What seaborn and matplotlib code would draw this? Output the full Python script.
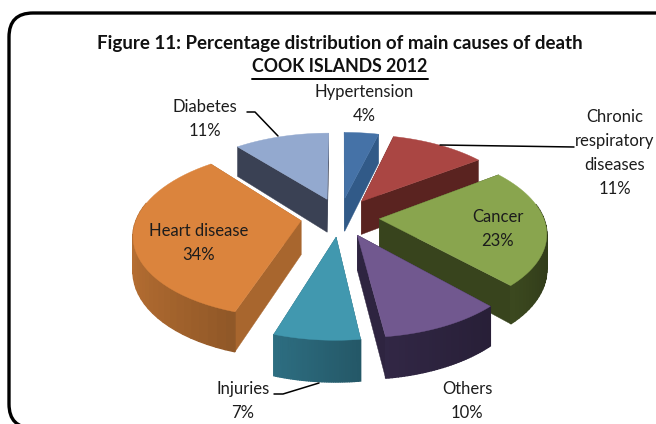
import numpy as np
import matplotlib
matplotlib.use('Agg')
import matplotlib.pyplot as plt
from matplotlib.patches import FancyBboxPatch
import seaborn as sns

# Data
causes = ['Hypertension', 'Chronic\nrespiratory\ndiseases', 'Cancer', 'Others',
          'Injuries', 'Heart disease', 'Diabetes']
percent = [4, 11, 23, 10, 7, 34, 11]

# Styles
top_colors = ['#4572A7', '#AA4643', '#89A54E', '#71588F', '#4198AF', '#DB843D', '#93A9CF']
side_colors = ['#315A88', '#5A2320', '#38441D', '#2E2440', '#2A6678', '#A8662E', '#3A4154']

sns.set_theme(style='white')
plt.rcParams['font.family'] = ['Lato', 'DejaVu Sans']
text_color = '#1c1c1c'

# Fake 3D view of the disc, in pixels of the picture
cx, cy = 340, 217
rad_x, rad_y = 164, 81
persp = 0.15
depth = 34
explode = 0.24


def project(u, v, z=0.0):
    s = 1 / (1 - persp * v)
    return cx + rad_x * u * s, cy + rad_y * v * s + depth * z * s


fig = plt.figure(figsize=(6.56, 4.24), dpi=100)
ax = fig.add_axes([0, 0, 1, 1])
ax.set_xlim(0, 656)
ax.set_ylim(424, 0)
ax.axis('off')

ax.add_patch(FancyBboxPatch((32, 36), 700, 369, boxstyle='round,pad=23,rounding_size=24',
                            fc='white', ec='black', lw=2.4, zorder=0))

# Slice angles, clockwise from the top
edges = np.cumsum([0] + percent) / sum(percent) * 2 * np.pi
slices = []
for i in range(len(percent)):
    mid = (edges[i] + edges[i + 1]) / 2
    slices.append((-np.cos(mid), i))

# Back slices are painted first
for _, i in sorted(slices):
    mid = (edges[i] + edges[i + 1]) / 2
    ou, ov = explode * np.sin(mid), -explode * np.cos(mid)
    theta = np.linspace(edges[i], edges[i + 1], 40)
    ru, rv = ou + np.sin(theta), ov - np.cos(theta)
    side = np.array(matplotlib.colors.to_rgb(side_colors[i]))

    # Straight cut faces
    for end in (0, -1):
        xs, ys = zip(project(ou, ov), project(ru[end], rv[end]),
                     project(ru[end], rv[end], 1), project(ou, ov, 1))
        ax.fill(xs, ys, color=side, lw=0.3, zorder=2)

    # Rim, a bit darker towards the right of each slice
    span = ru.max() - ru.min()
    for k in range(len(theta) - 1):
        xs, ys = zip(project(ru[k], rv[k]), project(ru[k + 1], rv[k + 1]),
                     project(ru[k + 1], rv[k + 1], 1), project(ru[k], rv[k], 1))
        shade = np.clip(side * (1.08 - 0.22 * (ru[k] - ru.min()) / span), 0, 1)
        if rv[k] > -0.15 or rv[k + 1] > -0.15:
            ax.fill(xs, ys, color=shade, lw=1.0, zorder=2)

    xs, ys = project(np.r_[ou, ru], np.r_[ov, rv])
    ax.fill(xs, ys, color=top_colors[i], lw=0.3, zorder=2)

# Titles
ax.text(340, 43, 'Figure 11: Percentage distribution of main causes of death',
        ha='center', va='center', fontsize=13.5, fontweight='bold', color='#111111')
sub = ax.text(340, 67, 'COOK ISLANDS 2012', ha='center', va='center', fontsize=12.8,
              fontweight='bold', color='#111111')
fig.canvas.draw()
box = sub.get_window_extent().transformed(ax.transData.inverted())
ax.plot([box.x0, box.x1], [79, 79], color='black', lw=1.4)

# Labels
label_pos = [(364, 104), (615, 153), (498, 229), (467, 401), (243, 401), (199, 243), (205, 119)]
for name, pct, (lx, ly) in zip(causes, percent, label_pos):
    ax.text(lx, ly, f'{name}\n{pct}%', ha='center', va='center', fontsize=12,
            color=text_color, linespacing=1.62, zorder=3)

# Leader lines
ax.plot([247, 255, 278], [112, 112, 136], color='black', lw=1.1, zorder=3)
ax.plot([440, 574], [145, 147], color='black', lw=1.1, zorder=3)
ax.plot([274, 283, 319], [394, 394, 383], color='black', lw=1.1, zorder=3)

fig.savefig('out.png', dpi=100)
